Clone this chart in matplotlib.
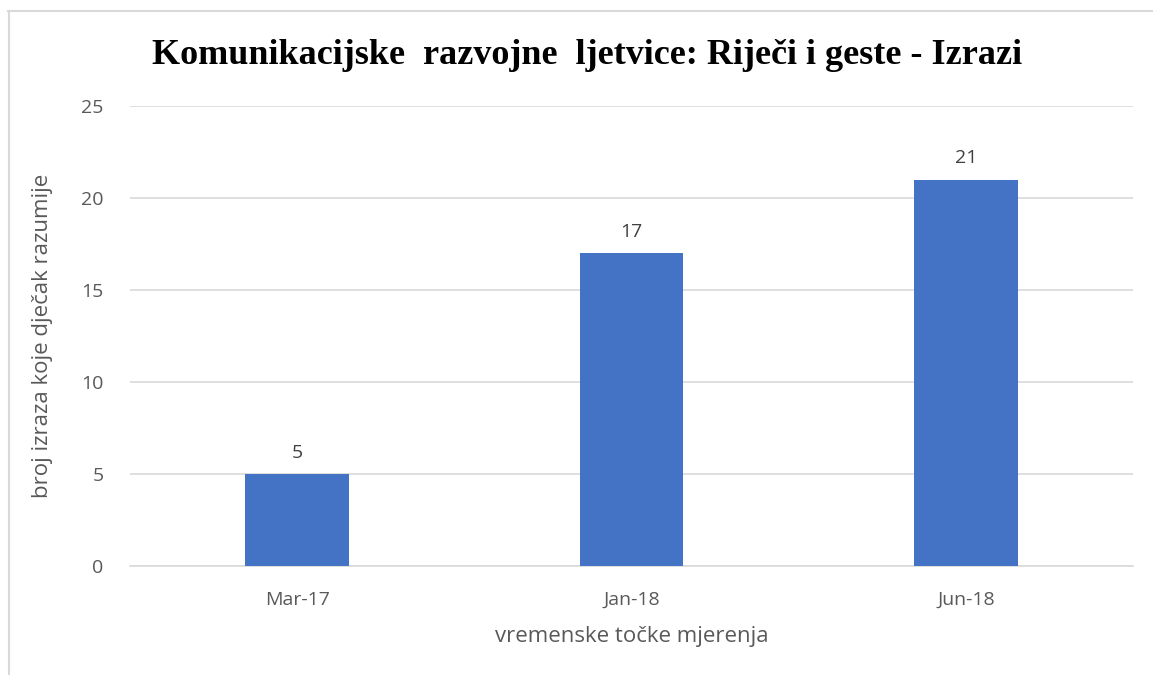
import matplotlib
matplotlib.use("Agg")
import matplotlib.pyplot as plt
from matplotlib.lines import Line2D

# podaci
kategorije = ["Mar-17", "Jan-18", "Jun-18"]
vrijednosti = [5, 17, 21]
y_ticks = [0, 5, 10, 15, 20, 25]

plt.rcParams['font.family'] = ['Open Sans', 'DejaVu Sans']

fig = plt.figure(figsize=(11.53, 6.75), dpi=100)
ax = fig.add_axes([130/1153, 1-566/675, 1003/1153, 460/675])

x = range(len(kategorije))
bars = ax.bar(x, vrijednosti, width=0.31, color="#4472C4", zorder=3)
for b, v in zip(bars, vrijednosti):
    ax.annotate(str(v), (b.get_x() + b.get_width()/2, v), xytext=(0, 9),
                textcoords="offset points", ha="center", va="bottom",
                fontsize=14, color="#404040")

ax.set_xlim(-0.5, len(kategorije) - 0.5)
ax.set_ylim(0, 25)
ax.set_yticks(y_ticks)
ax.set_xticks(list(x))
ax.set_xticklabels(kategorije)
ax.grid(axis="y", color="#D9D9D9", linewidth=1.2, zorder=0)
for s in ["top", "right", "left"]:
    ax.spines[s].set_visible(False)
ax.spines["bottom"].set_color("#D9D9D9")
ax.spines["bottom"].set_linewidth(1.2)
ax.tick_params(length=0, labelsize=14, labelcolor="#595959")
ax.tick_params(axis="x", pad=18)
ax.tick_params(axis="y", pad=19)

ax.set_xlabel("vremenske točke mjerenja", fontsize=16, color="#595959", labelpad=12)
ax.set_ylabel("broj izraza koje dječak razumije", fontsize=16, color="#595959", labelpad=20)

fig.text(587/1153, 1-56/675, "Komunikacijske  razvojne  ljetvice: Riječi i geste - Izrazi",
         ha="center", va="center", fontsize=26, fontweight="bold",
         family=["Liberation Serif", "DejaVu Serif"])

# okvir
fig.add_artist(Line2D([8/1153, 1], [1-11/675, 1-11/675], color="#D9D9D9", linewidth=1.5, transform=fig.transFigure))
fig.add_artist(Line2D([9/1153, 9/1153], [0, 1-11/675], color="#D9D9D9", linewidth=1.5, transform=fig.transFigure))

fig.savefig("out.png", dpi=100)
